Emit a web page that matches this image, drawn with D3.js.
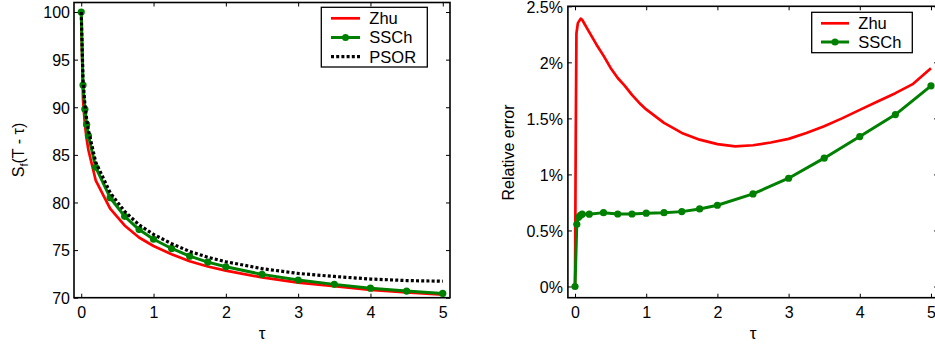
<!DOCTYPE html>
<html>
<head>
<meta charset="utf-8">
<script src="https://cdn.jsdelivr.net/npm/d3@7"></script>
<style>
  html, body { margin: 0; padding: 0; background: #fff; }
  svg { display: block; font-family: "Liberation Sans", Arial, Helvetica, sans-serif; }
</style>
</head>
<body>
<svg id="chart" width="935" height="345"></svg>
<script>
// ---------- data ----------
const tau = [0, 0.025, 0.05, 0.075, 0.1, 0.2, 0.4, 0.6, 0.8, 1, 1.25, 1.5, 1.75, 2, 2.5, 3, 3.5, 4, 4.5, 5];
const priceZhu  = [100, 90.76, 88.23, 86.65, 85.48, 82.33, 79.36, 77.59, 76.32, 75.43, 74.57, 73.83, 73.28, 72.84, 72.13, 71.59, 71.20, 70.83, 70.56, 70.33];
const priceSSCh = [100, 92.33, 89.8, 88.2, 87.0, 83.7, 80.5, 78.55, 77.15, 76.14, 75.17, 74.36, 73.74, 73.25, 72.45, 71.85, 71.4, 71.0, 70.7, 70.45];
const pricePSOR = [100, 92.85, 90.36, 88.76, 87.56, 84.24, 81.03, 79.06, 77.65, 76.64, 75.67, 74.86, 74.25, 73.78, 73.05, 72.55, 72.23, 71.96, 71.80, 71.73];

const tauZhuErr = [0, 0.01, 0.02, 0.04, 0.08, 0.1, 0.2, 0.3, 0.4, 0.5, 0.6, 0.7, 0.8, 0.9, 1, 1.25, 1.5, 1.75, 2, 2.25, 2.5, 2.75, 3, 3.25, 3.5, 3.75, 4, 4.25, 4.5, 4.75, 5];
const errZhu  = [0, 1.3, 2.26, 2.35, 2.39, 2.38, 2.27, 2.16, 2.06, 1.95, 1.86, 1.79, 1.71, 1.64, 1.58, 1.46, 1.37, 1.31, 1.27, 1.25, 1.26, 1.285, 1.317, 1.37, 1.43, 1.5, 1.576, 1.65, 1.725, 1.808, 1.948];
const errSSCh = [0, 0.555, 0.618, 0.635, 0.645, 0.645, 0.659, 0.647, 0.647, 0.654, 0.659, 0.668, 0.692, 0.725, 0.826, 0.966, 1.145, 1.338, 1.534, 1.79];

const xTicks = [0, 1, 2, 3, 4, 5];
const leftYTicks = [70, 75, 80, 85, 90, 95, 100];
const rightYTicks = [0, 0.5, 1, 1.5, 2, 2.5];
const rightYTickLabels = ["0%", "0.5%", "1%", "1.5%", "2%", "2.5%"];

const RED = "#ff0000", GREEN = "#008000", BLACK = "#000000";

const svg = d3.select("#chart");

function panel(opts) {
  const g = svg.append("g");
  const x = d3.scaleLinear().domain(opts.xDomain).range([opts.left, opts.right]);
  const y = d3.scaleLinear().domain(opts.yDomain).range([opts.bottom, opts.top]);
  const tickLen = 4;

  // ticks on all four sides, pointing inward
  const axB = d3.axisBottom(x).tickValues(xTicks).tickSizeInner(-tickLen).tickSizeOuter(0).tickPadding(6).tickFormat(d3.format("d"));
  const axT = d3.axisTop(x).tickValues(xTicks).tickSizeInner(-tickLen).tickSizeOuter(0).tickFormat("");
  const axL = d3.axisLeft(y).tickValues(opts.yTicks).tickSizeInner(-tickLen).tickSizeOuter(0).tickPadding(opts.yPad).tickFormat((d, i) => opts.yLabels[i]);
  const axR = d3.axisRight(y).tickValues(opts.yTicks).tickSizeInner(-tickLen).tickSizeOuter(0).tickFormat("");

  const style = sel => {
    sel.select(".domain").remove();
    sel.selectAll(".tick line").attr("stroke", "#000").attr("stroke-width", 1);
    sel.selectAll(".tick text").attr("fill", "#000").style("font-size", "16px")
      .style("font-family", '"Liberation Sans", Arial, Helvetica, sans-serif');
  };
  g.append("g").attr("transform", `translate(0,${opts.bottom})`).call(axB).call(style)
    .selectAll(".tick text").attr("dy", null).attr("y", 20.5);
  g.append("g").attr("transform", `translate(0,${opts.top})`).call(axT).call(style);
  g.append("g").attr("transform", `translate(${opts.left},0)`).call(axL).call(style)
    .selectAll(".tick text").attr("dy", "0.36em");
  g.append("g").attr("transform", `translate(${opts.right},0)`).call(axR).call(style);

  // frame
  g.append("rect").attr("x", opts.left).attr("y", opts.top)
    .attr("width", opts.right - opts.left).attr("height", opts.bottom - opts.top)
    .attr("fill", "none").attr("stroke", "#000").attr("stroke-width", 1.6);

  return { g, x, y };
}

function drawLine(p, xs, ys, color, width, dash) {
  const line = d3.line().x(d => p.x(d[0])).y(d => p.y(d[1]));
  const pts = xs.map((v, i) => [v, ys[i]]);
  const path = p.g.append("path").attr("d", line(pts)).attr("fill", "none")
    .attr("stroke", color).attr("stroke-width", width).attr("stroke-linejoin", "round");
  if (dash) path.attr("stroke-dasharray", dash);
  return pts;
}
function drawMarkers(p, pts, color, r) {
  p.g.append("g").selectAll("circle").data(pts).join("circle")
    .attr("cx", d => p.x(d[0])).attr("cy", d => p.y(d[1])).attr("r", r).attr("fill", color);
}

function legend(g, box, items) {
  g.append("rect").attr("x", box.x).attr("y", box.y).attr("width", box.w).attr("height", box.h)
    .attr("fill", "#fff").attr("stroke", "#000").attr("stroke-width", 1.3);
  items.forEach((it, i) => {
    const yy = box.y0 + i * box.dy;
    const l = g.append("line").attr("x1", box.lx1).attr("x2", box.lx2).attr("y1", yy).attr("y2", yy)
      .attr("stroke", it.color).attr("stroke-width", it.width);
    if (it.dash) l.attr("stroke-dasharray", it.dash);
    if (it.marker) g.append("circle").attr("cx", (box.lx1 + box.lx2) / 2).attr("cy", yy).attr("r", 3.5).attr("fill", it.color);
    g.append("text").attr("x", box.tx).attr("y", yy).attr("dy", "0.36em")
      .style("font-size", "16.5px").attr("fill", "#000").text(it.label);
  });
}

// ---------- left panel ----------
const L = panel({
  xDomain: [-0.1, 5.1], yDomain: [70, 101],
  left: 74, right: 450, top: 2.5, bottom: 297.7,
  yTicks: leftYTicks, yLabels: leftYTicks.map(String), yPad: 4
});
drawLine(L, tau, priceZhu, RED, 2.7);
const sPts = drawLine(L, tau, priceSSCh, GREEN, 3);
drawMarkers(L, sPts, GREEN, 3.6);
drawLine(L, tau, pricePSOR, BLACK, 3.2, "3,2.2");

legend(L.g, { x: 321.3, y: 7.3, w: 106, h: 59.7, y0: 18.3, dy: 19.2, lx1: 331, lx2: 360, tx: 369.3 }, [
  { label: "Zhu", color: RED, width: 2.7 },
  { label: "SSCh", color: GREEN, width: 3, marker: true },
  { label: "PSOR", color: BLACK, width: 3.2, dash: "3,2.2" }
]);

// axis titles
svg.append("text").attr("x", 262).attr("y", 339).attr("text-anchor", "middle")
  .style("font-size", "17px").text("τ");
const yl = svg.append("text").attr("transform", "translate(23.5,150) rotate(-90)")
  .attr("text-anchor", "middle").style("font-size", "16px");
yl.append("tspan").text("S");
yl.append("tspan").attr("dy", 4).style("font-size", "11px").text("f");
yl.append("tspan").attr("dy", -4).text("(T - τ)");

// ---------- right panel ----------
const R = panel({
  xDomain: [-0.1, 5.1], yDomain: [-0.1, 2.5],
  left: 567.9, right: 938.1, top: 6.3, bottom: 297.7,
  yTicks: rightYTicks, yLabels: rightYTickLabels, yPad: 5
});
drawLine(R, tauZhuErr, errZhu, RED, 2.7);
const ePts = drawLine(R, tau, errSSCh, GREEN, 3);
drawMarkers(R, ePts, GREEN, 3.6);

legend(R.g, { x: 811.7, y: 12.3, w: 100.6, h: 40.4, y0: 23.3, dy: 18.7, lx1: 821, lx2: 849, tx: 858.3 }, [
  { label: "Zhu", color: RED, width: 2.7 },
  { label: "SSCh", color: GREEN, width: 3, marker: true }
]);

svg.append("text").attr("x", 753).attr("y", 339).attr("text-anchor", "middle")
  .style("font-size", "17px").text("τ");
svg.append("text").attr("transform", "translate(514,152.5) rotate(-90)")
  .attr("text-anchor", "middle").style("font-size", "16px").text("Relative error");
</script>
</body>
</html>
